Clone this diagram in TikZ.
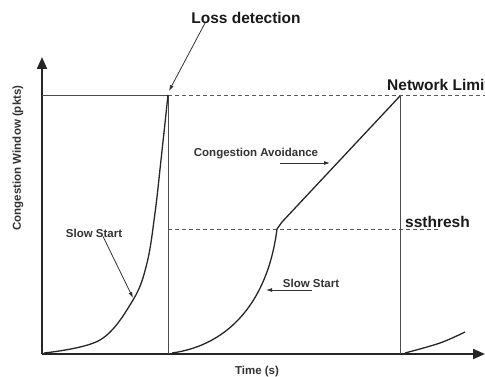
\documentclass[tikz,border=0pt]{standalone}
\usepackage{fontspec}
\setmainfont{Liberation Sans}
\usetikzlibrary{arrows.meta}
\begin{document}
\begin{tikzpicture}[x=1pt,y=-1pt,
  axis/.style={line width=2pt,draw=black!85,-{Triangle[length=12pt,width=10pt]}},
  curve/.style={line width=1.3pt,draw=black!85},
  guide/.style={line width=0.9pt,draw=black!70},
  dashguide/.style={line width=0.8pt,draw=black!65,dash pattern=on 4pt off 3pt},
  pointer/.style={line width=0.8pt,draw=black!80,-{Latex[length=6pt,width=4pt]}},
  biglabel/.style={font=\bfseries\fontsize{15.5}{17}\selectfont,text=black!90,inner sep=0pt},
  smalllabel/.style={font=\bfseries\fontsize{11.5}{13}\selectfont,text=black!80,inner sep=0pt}]
\useasboundingbox (0,0) rectangle (485,377);

% axes
\coordinate (o) at (42,354);
\coordinate (ytop) at (42,57);
\coordinate (xend) at (485,354);
\draw[axis] (o) -- (ytop);
\draw[axis] (o) -- (xend);

% window limit and threshold guides
\coordinate (peak1) at (168,95);
\coordinate (peak2) at (400,96);
\coordinate (lim0) at (42,95);
\coordinate (lim1) at (485,95);
\coordinate (ss0) at (168,229);
\coordinate (ss1) at (438,229);
\draw[guide] (lim0) -- (peak1);
\draw[dashguide] (peak1) -- (lim1);
\draw[dashguide] (ss0) -- (ss1);
\draw[guide] (peak1) -- (168,354);
\draw[guide] (peak2) -- (400,354);

% window growth
\draw[curve] plot[smooth,tension=0.6] coordinates
  {(44,353) (100,340) (133,300) (147,263) (155,213) (161,160) (168,95)};
\coordinate (ca) at (282,222);
\draw[curve] (172,353) .. controls (230,345) and (268,300) .. (277,229)
  -- (ca) -- (peak2);
\draw[curve] plot[smooth,tension=0.6] coordinates {(405,353) (440,343) (465,332)};

% labels
\node[biglabel] (loss) at (246,18) {Loss detection};
\node[biglabel,anchor=west] (net) at (387,85) {Network Limit};
\node[biglabel,anchor=west] (ssth) at (405,222) {ssthresh};
\node[smalllabel] (cav) at (256,154) {Congestion Avoidance};
\node[smalllabel] (ss1lbl) at (94,233) {Slow Start};
\node[smalllabel] (ss2lbl) at (311,283) {Slow Start};
\node[smalllabel] (time) at (257,372) {Time (s)};
\node[smalllabel,rotate=90] (ylbl) at (18,158) {Congestion Window (pkts)};

% pointers
\coordinate (lossTip) at (169,91);
\coordinate (cavA) at (280,163);
\coordinate (cavB) at (330,163);
\coordinate (ss1Tip) at (133,298);
\coordinate (ss2A) at (312,290);
\coordinate (ss2Tip) at (266,290);
\draw[pointer] (loss.south west) ++(14,-1) -- (lossTip);
\draw[pointer] (cavA) -- (cavB);
\draw[pointer] (ss1lbl.south) ++(9,-1) -- (ss1Tip);
\draw[pointer] (ss2A) -- (ss2Tip);
\end{tikzpicture}
\end{document}
